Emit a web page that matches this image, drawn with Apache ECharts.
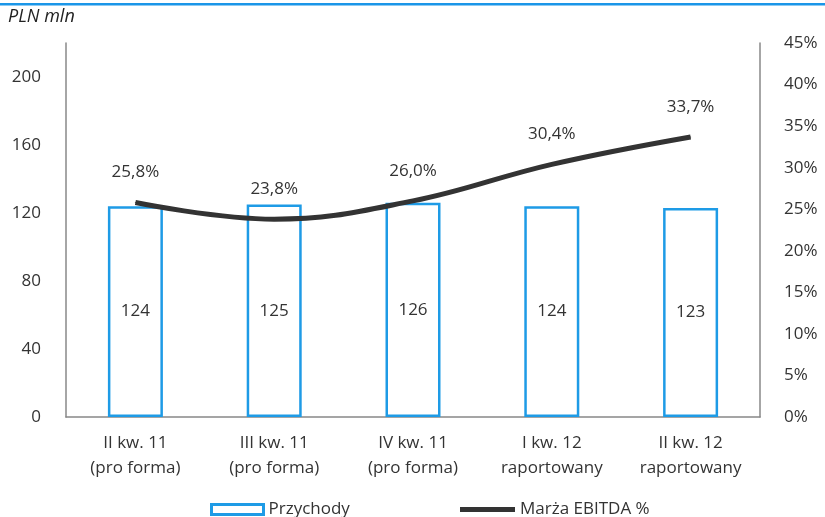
<!DOCTYPE html>
<html><head><meta charset="utf-8">
<script src="https://cdn.jsdelivr.net/npm/echarts@6/dist/echarts.min.js"></script>
<style>html,body{margin:0;padding:0;background:#fff}#c{width:825px;height:517px}</style>
</head><body><div id="c"></div>
<script>
const categories = ['II kw. 11\n(pro forma)', 'III kw. 11\n(pro forma)', 'IV kw. 11\n(pro forma)', 'I kw. 12\nraportowany', 'II kw. 12\nraportowany'];
const revenue = [124, 125, 126, 124, 123];
const ebitdaMargin = [25.8, 23.8, 26.0, 30.4, 33.7];
const unitLabel = 'PLN mln';
const seriesNames = ['Przychody', 'Marża EBITDA %'];

const FONT = '"Open Sans", sans-serif';
const TXT = '#333';
const FS = 17;
const chart = echarts.init(document.getElementById('c'), null, {renderer: 'canvas'});
chart.setOption({
  animation: false,
  backgroundColor: '#fff',
  textStyle: {fontFamily: FONT, color: TXT},
  graphic: [
    {type: 'rect', shape: {x: 0, y: 3, width: 825, height: 2.5}, style: {fill: '#1a96e8'}},
    {type: 'text', left: 8, top: 8, style: {text: unitLabel, font: 'italic 18px ' + FONT, fill: '#222'}}
  ],
  grid: {left: 66, right: 65, top: 43, bottom: 100},
  legend: [
    {left: 205, top: 496, itemWidth: 52, itemHeight: 10, itemGap: 4,
     textStyle: {fontSize: FS, color: TXT, fontFamily: FONT},
     data: [{name: seriesNames[0], icon: 'rect', itemStyle: {color: '#fff', borderColor: '#1e9be6', borderWidth: 3}}]},
    {left: 455, top: 496, itemWidth: 55, itemHeight: 5,
     textStyle: {fontSize: FS, color: TXT, fontFamily: FONT},
     data: [{name: seriesNames[1], icon: 'rect', itemStyle: {color: '#333'}}]}
  ],
  xAxis: {
    type: 'category', data: categories,
    axisLine: {lineStyle: {color: '#888', width: 1.5}},
    axisTick: {show: false},
    axisLabel: {fontSize: FS, color: TXT, lineHeight: 25, margin: 14, fontFamily: FONT}
  },
  yAxis: [
    {type: 'value', min: 0, max: 220, interval: 40,
     axisLine: {show: true, lineStyle: {color: '#888', width: 1.5}},
     axisTick: {show: false}, splitLine: {show: false},
     axisLabel: {fontSize: FS, color: TXT, margin: 25, showMaxLabel: false, fontFamily: FONT}},
    {type: 'value', min: 0, max: 45, interval: 5, position: 'right',
     axisLine: {show: true, lineStyle: {color: '#888', width: 1.5}},
     axisTick: {show: false}, splitLine: {show: false},
     axisLabel: {fontSize: FS, color: TXT, margin: 24, formatter: '{value}%', fontFamily: FONT}}
  ],
  series: [
    {name: seriesNames[0], type: 'bar', data: revenue, barWidth: 55, yAxisIndex: 0,
     itemStyle: {color: '#fff', borderColor: '#1e9be6', borderWidth: 2.5},
     label: {show: true, position: 'inside', fontSize: FS, color: TXT, fontFamily: FONT}},
    {name: seriesNames[1], type: 'line', data: ebitdaMargin, yAxisIndex: 1, smooth: 0.4,
     symbol: 'circle', symbolSize: 1, showSymbol: true, lineStyle: {color: '#333', width: 5},
     itemStyle: {color: '#333'},
     label: {show: true, position: 'top', distance: 21, fontSize: FS, color: TXT, fontFamily: FONT,
       formatter: p => p.value.toFixed(1).replace('.', ',') + '%'}}
  ]
});
</script></body></html>
